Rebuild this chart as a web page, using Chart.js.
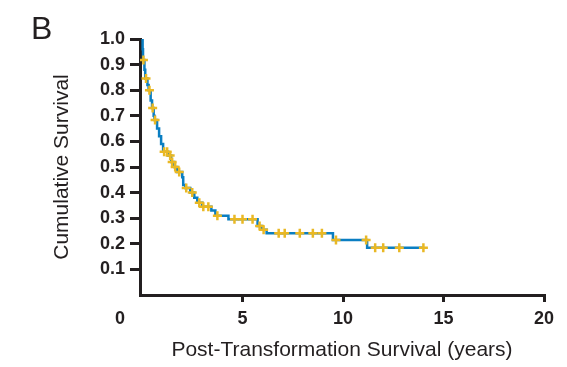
<!DOCTYPE html>
<html>
<head>
<meta charset="utf-8">
<script src="https://cdn.jsdelivr.net/npm/chart.js@4.4.1/dist/chart.umd.min.js"></script>
<style>
  body { margin: 0; background: #fff; }
  canvas { display: block; }
</style>
</head>
<body>
<canvas id="kmChart" width="567" height="367"></canvas>
<script>
// Kaplan-Meier steps: time (years) and survival level from that time on
var stepTimes = [0, 0.03, 0.05, 0.12, 0.16, 0.27, 0.33, 0.43, 0.5, 0.58, 0.62, 0.75, 0.85, 0.95,
  1.05, 1.3, 1.45, 1.6, 1.75, 2.0, 2.05, 2.15, 2.4, 2.6, 2.75, 3.0, 3.45, 3.65, 4.3,
  5.75, 5.95, 6.2, 9.5, 11.2, 14.0];
var stepSurvival = [1.0, 0.96, 0.918, 0.88, 0.846, 0.82, 0.8, 0.76, 0.73, 0.7, 0.684, 0.65, 0.62, 0.59,
  0.56, 0.545, 0.52, 0.5, 0.48, 0.46, 0.43, 0.418, 0.4, 0.38, 0.36, 0.345, 0.33, 0.31, 0.296,
  0.27, 0.255, 0.241, 0.215, 0.185, 0.185];

// censored patients (tick marks on the curve)
var censorTimes = [0.07, 0.2, 0.37, 0.53, 0.65, 1.1, 1.25, 1.4, 1.5, 1.65, 1.85, 2.2, 2.5, 2.85,
  3.05, 3.3, 3.75, 4.6, 5.0, 5.5, 5.85, 6.05, 6.8, 7.1, 7.85, 8.5, 8.95, 9.65, 11.15,
  11.6, 12.0, 12.8, 14.0];
var censorSurvival = [0.918, 0.846, 0.8, 0.73, 0.684, 0.56, 0.56, 0.545, 0.52, 0.5, 0.48, 0.418, 0.4, 0.36,
  0.345, 0.345, 0.31, 0.296, 0.296, 0.296, 0.27, 0.255, 0.241, 0.241, 0.241, 0.241, 0.241, 0.215, 0.215,
  0.185, 0.185, 0.185, 0.185];

var xTicks = [5, 10, 15, 20];
var yTicks = [0.1, 0.2, 0.3, 0.4, 0.5, 0.6, 0.7, 0.8, 0.9, 1.0];

var ink = "#231f20";
var lineBlue = "#0a7ec2";
var markYellow = "#e9b824";
var family = "'Liberation Sans', Arial, sans-serif";
var tickFont = { family: family, size: 18, weight: "bold" };

function toPoints(xs, ys) {
  return xs.map(function (x, i) {
    return { x: x, y: ys[i] };
  });
}

// panel letter and the origin label that sits left of the corner
var extraText = {
  id: "extraText",
  afterDraw: function (chart) {
    var ctx = chart.ctx;
    var xScale = chart.scales.x;
    var items = xScale.getLabelItems();
    ctx.save();
    ctx.fillStyle = ink;
    ctx.font = "32px " + family;
    ctx.textAlign = "left";
    ctx.textBaseline = "alphabetic";
    ctx.fillText("B", 31, 39);

    // same vertical placement as the other x tick labels
    var first = items[0];
    var labelY = first.options.translation[1] + (first.textOffset || 0);
    ctx.font = "bold 18px " + family;
    ctx.textAlign = "center";
    ctx.textBaseline = first.options.textBaseline;
    ctx.fillText("0", xScale.getPixelForValue(0) - 22, labelY);
    ctx.restore();
  },
};

var config = {
  type: "scatter",
  data: {
    datasets: [
      {
        label: "Censored",
        data: toPoints(censorTimes, censorSurvival),
        pointStyle: "cross",
        pointRadius: 4.5,
        pointBorderWidth: 2.5,
        pointBorderColor: markYellow,
        pointBackgroundColor: markYellow,
        showLine: false,
      },
      {
        label: "Survival",
        data: toPoints(stepTimes, stepSurvival),
        showLine: true,
        stepped: true,
        borderColor: lineBlue,
        borderWidth: 2.5,
        pointRadius: 0,
        fill: false,
      },
    ],
  },
  options: {
    responsive: false,
    animation: false,
    events: [],
    layout: {
      padding: { top: 39, right: 23, left: 0, bottom: 0 },
    },
    plugins: {
      legend: { display: false },
      tooltip: { enabled: false },
    },
    scales: {
      x: {
        type: "linear",
        min: -0.1,
        max: 20,
        afterFit: function (scale) {
          scale.height = 72;
        },
        afterBuildTicks: function (scale) {
          scale.ticks = xTicks.map(function (v) {
            return { value: v };
          });
        },
        border: { display: true, color: ink, width: 3 },
        grid: {
          drawOnChartArea: false,
          drawTicks: true,
          tickLength: 7,
          tickWidth: 3,
          tickColor: ink,
          color: ink,
          lineWidth: 3,
        },
        ticks: {
          color: ink,
          font: tickFont,
          padding: 6,
          maxRotation: 0,
          callback: function (v) {
            return String(v);
          },
        },
        title: {
          display: true,
          text: "Post-Transformation Survival (years)",
          color: ink,
          font: { family: family, size: 21 },
          padding: { top: 0, bottom: 4 },
        },
      },
      y: {
        type: "linear",
        min: 0,
        max: 1.0,
        afterFit: function (scale) {
          scale.width = 140;
        },
        afterBuildTicks: function (scale) {
          scale.ticks = yTicks.map(function (v) {
            return { value: v };
          });
        },
        border: { display: true, color: ink, width: 3 },
        grid: {
          drawOnChartArea: false,
          drawTicks: true,
          tickLength: 10,
          tickWidth: 3,
          tickColor: ink,
          color: ink,
          lineWidth: 3,
        },
        ticks: {
          color: ink,
          font: tickFont,
          padding: 5,
          callback: function (v) {
            return Number(v).toFixed(1);
          },
        },
        title: {
          display: true,
          text: "Cumulative Survival",
          color: ink,
          font: { family: family, size: 21 },
          padding: { top: 50, bottom: 0 },
        },
      },
    },
  },
  plugins: [extraText],
};

var kmChart = new Chart(document.getElementById("kmChart"), config);
</script>
</body>
</html>
